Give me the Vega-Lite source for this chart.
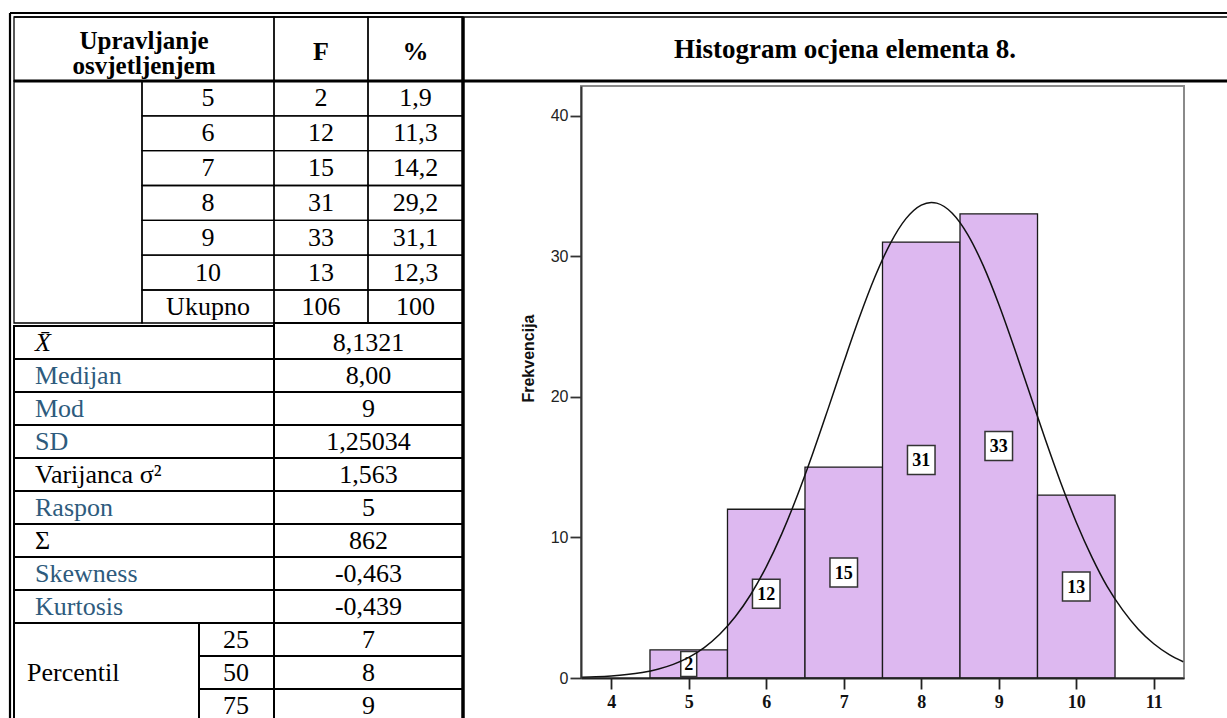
{
  "$schema": "https://vega.github.io/schema/vega-lite/v6.json",
  "padding": 0,
  "spacing": 118,
  "bounds": "flush",
  "background": "white",
  "config": {"view": {"stroke": null}},
  "datasets": {
    "cells": [
      {"r0": 0, "r1": 1, "c0": 0, "c1": 3},
      {"r0": 0, "r1": 1, "c0": 3, "c1": 4},
      {"r0": 0, "r1": 1, "c0": 4, "c1": 5},
      {"r0": 1, "r1": 8, "c0": 0, "c1": 1},
      {"r0": 1, "r1": 2, "c0": 1, "c1": 3}, {"r0": 1, "r1": 2, "c0": 3, "c1": 4}, {"r0": 1, "r1": 2, "c0": 4, "c1": 5},
      {"r0": 2, "r1": 3, "c0": 1, "c1": 3}, {"r0": 2, "r1": 3, "c0": 3, "c1": 4}, {"r0": 2, "r1": 3, "c0": 4, "c1": 5},
      {"r0": 3, "r1": 4, "c0": 1, "c1": 3}, {"r0": 3, "r1": 4, "c0": 3, "c1": 4}, {"r0": 3, "r1": 4, "c0": 4, "c1": 5},
      {"r0": 4, "r1": 5, "c0": 1, "c1": 3}, {"r0": 4, "r1": 5, "c0": 3, "c1": 4}, {"r0": 4, "r1": 5, "c0": 4, "c1": 5},
      {"r0": 5, "r1": 6, "c0": 1, "c1": 3}, {"r0": 5, "r1": 6, "c0": 3, "c1": 4}, {"r0": 5, "r1": 6, "c0": 4, "c1": 5},
      {"r0": 6, "r1": 7, "c0": 1, "c1": 3}, {"r0": 6, "r1": 7, "c0": 3, "c1": 4}, {"r0": 6, "r1": 7, "c0": 4, "c1": 5},
      {"r0": 7, "r1": 8, "c0": 1, "c1": 3}, {"r0": 7, "r1": 8, "c0": 3, "c1": 4}, {"r0": 7, "r1": 8, "c0": 4, "c1": 5},
      {"r0": 9, "r1": 10, "c0": 0, "c1": 3}, {"r0": 8, "r1": 10, "c0": 3, "c1": 5},
      {"r0": 10, "r1": 11, "c0": 0, "c1": 3}, {"r0": 10, "r1": 11, "c0": 3, "c1": 5},
      {"r0": 11, "r1": 12, "c0": 0, "c1": 3}, {"r0": 11, "r1": 12, "c0": 3, "c1": 5},
      {"r0": 12, "r1": 13, "c0": 0, "c1": 3}, {"r0": 12, "r1": 13, "c0": 3, "c1": 5},
      {"r0": 13, "r1": 14, "c0": 0, "c1": 3}, {"r0": 13, "r1": 14, "c0": 3, "c1": 5},
      {"r0": 14, "r1": 15, "c0": 0, "c1": 3}, {"r0": 14, "r1": 15, "c0": 3, "c1": 5},
      {"r0": 15, "r1": 16, "c0": 0, "c1": 3}, {"r0": 15, "r1": 16, "c0": 3, "c1": 5},
      {"r0": 16, "r1": 17, "c0": 0, "c1": 3}, {"r0": 16, "r1": 17, "c0": 3, "c1": 5},
      {"r0": 17, "r1": 18, "c0": 0, "c1": 3}, {"r0": 17, "r1": 18, "c0": 3, "c1": 5},
      {"r0": 18, "r1": 21, "c0": 0, "c1": 2},
      {"r0": 18, "r1": 19, "c0": 2, "c1": 3}, {"r0": 18, "r1": 19, "c0": 3, "c1": 5},
      {"r0": 19, "r1": 20, "c0": 2, "c1": 3}, {"r0": 19, "r1": 20, "c0": 3, "c1": 5},
      {"r0": 20, "r1": 21, "c0": 2, "c1": 3}, {"r0": 20, "r1": 21, "c0": 3, "c1": 5}
    ],
    "texts": [
      {"row": 0, "col": 2, "text": "Upravljanje\nosvjetljenjem", "kind": "head2"},
      {"row": 0, "col": 5, "text": "F", "kind": "head"},
      {"row": 0, "col": 7, "text": "%", "kind": "head"},
      {"row": 0, "col": 8, "text": "Histogram ocjena elementa 8.", "kind": "title"},
      {"row": 1, "col": 3, "text": "5", "kind": "cell"}, {"row": 1, "col": 5, "text": "2", "kind": "cell"}, {"row": 1, "col": 7, "text": "1,9", "kind": "cell"},
      {"row": 2, "col": 3, "text": "6", "kind": "cell"}, {"row": 2, "col": 5, "text": "12", "kind": "cell"}, {"row": 2, "col": 7, "text": "11,3", "kind": "cell"},
      {"row": 3, "col": 3, "text": "7", "kind": "cell"}, {"row": 3, "col": 5, "text": "15", "kind": "cell"}, {"row": 3, "col": 7, "text": "14,2", "kind": "cell"},
      {"row": 4, "col": 3, "text": "8", "kind": "cell"}, {"row": 4, "col": 5, "text": "31", "kind": "cell"}, {"row": 4, "col": 7, "text": "29,2", "kind": "cell"},
      {"row": 5, "col": 3, "text": "9", "kind": "cell"}, {"row": 5, "col": 5, "text": "33", "kind": "cell"}, {"row": 5, "col": 7, "text": "31,1", "kind": "cell"},
      {"row": 6, "col": 3, "text": "10", "kind": "cell"}, {"row": 6, "col": 5, "text": "13", "kind": "cell"}, {"row": 6, "col": 7, "text": "12,3", "kind": "cell"},
      {"row": 7, "col": 3, "text": "Ukupno", "kind": "cell"}, {"row": 7, "col": 5, "text": "106", "kind": "cell"}, {"row": 7, "col": 7, "text": "100", "kind": "cell"},
      {"row": 8, "col": 1, "text": "X̄", "kind": "label"}, {"row": 8, "col": 6, "text": "8,1321", "kind": "cell"},
      {"row": 9, "col": 1, "text": "Medijan", "kind": "label"}, {"row": 9, "col": 6, "text": "8,00", "kind": "cell"},
      {"row": 10, "col": 1, "text": "Mod", "kind": "label"}, {"row": 10, "col": 6, "text": "9", "kind": "cell"},
      {"row": 11, "col": 1, "text": "SD", "kind": "label"}, {"row": 11, "col": 6, "text": "1,25034", "kind": "cell"},
      {"row": 12, "col": 1, "text": "Varijanca σ²", "kind": "label"}, {"row": 12, "col": 6, "text": "1,563", "kind": "cell"},
      {"row": 13, "col": 1, "text": "Raspon", "kind": "label"}, {"row": 13, "col": 6, "text": "5", "kind": "cell"},
      {"row": 14, "col": 1, "text": "Σ", "kind": "label"}, {"row": 14, "col": 6, "text": "862", "kind": "cell"},
      {"row": 15, "col": 1, "text": "Skewness", "kind": "label"}, {"row": 15, "col": 6, "text": "-0,463", "kind": "cell"},
      {"row": 16, "col": 1, "text": "Kurtosis", "kind": "label"}, {"row": 16, "col": 6, "text": "-0,439", "kind": "cell"},
      {"row": 17, "col": 4, "text": "25", "kind": "cell"}, {"row": 17, "col": 6, "text": "7", "kind": "cell"},
      {"row": 18, "col": 0, "text": "Percentil", "kind": "label"}, {"row": 18, "col": 4, "text": "50", "kind": "cell"}, {"row": 18, "col": 6, "text": "8", "kind": "cell"},
      {"row": 19, "col": 4, "text": "75", "kind": "cell"}, {"row": 19, "col": 6, "text": "9", "kind": "cell"}
    ],
    "histogram": [
      {"ocjena": 5, "od": 4.5, "do": 5.5, "frekvencija": 2},
      {"ocjena": 6, "od": 5.5, "do": 6.5, "frekvencija": 12},
      {"ocjena": 7, "od": 6.5, "do": 7.5, "frekvencija": 15},
      {"ocjena": 8, "od": 7.5, "do": 8.5, "frekvencija": 31},
      {"ocjena": 9, "od": 8.5, "do": 9.5, "frekvencija": 33},
      {"ocjena": 10, "od": 9.5, "do": 10.5, "frekvencija": 13}
    ],
    "krivulja": [
      {"ocjena": 3.62, "gustoca": 0.05}, {"ocjena": 3.8, "gustoca": 0.084}, {"ocjena": 4.0, "gustoca": 0.144},
      {"ocjena": 4.2, "gustoca": 0.241}, {"ocjena": 4.4, "gustoca": 0.393}, {"ocjena": 4.6, "gustoca": 0.626},
      {"ocjena": 4.8, "gustoca": 0.971}, {"ocjena": 5.0, "gustoca": 1.468}, {"ocjena": 5.2, "gustoca": 2.163},
      {"ocjena": 5.4, "gustoca": 3.107}, {"ocjena": 5.6, "gustoca": 4.352}, {"ocjena": 5.8, "gustoca": 5.939},
      {"ocjena": 6.0, "gustoca": 7.903}, {"ocjena": 6.2, "gustoca": 10.249}, {"ocjena": 6.4, "gustoca": 12.956},
      {"ocjena": 6.6, "gustoca": 15.965}, {"ocjena": 6.8, "gustoca": 19.174}, {"ocjena": 7.0, "gustoca": 22.448},
      {"ocjena": 7.2, "gustoca": 25.614}, {"ocjena": 7.4, "gustoca": 28.494}, {"ocjena": 7.6, "gustoca": 30.893},
      {"ocjena": 7.8, "gustoca": 32.649}, {"ocjena": 8.0, "gustoca": 33.633}, {"ocjena": 8.13, "gustoca": 33.821},
      {"ocjena": 8.2, "gustoca": 33.771}, {"ocjena": 8.4, "gustoca": 33.054}, {"ocjena": 8.6, "gustoca": 31.534},
      {"ocjena": 8.8, "gustoca": 29.324}, {"ocjena": 9.0, "gustoca": 26.581}, {"ocjena": 9.2, "gustoca": 23.486},
      {"ocjena": 9.4, "gustoca": 20.225}, {"ocjena": 9.6, "gustoca": 16.979}, {"ocjena": 9.8, "gustoca": 13.892},
      {"ocjena": 10.0, "gustoca": 11.081}, {"ocjena": 10.2, "gustoca": 8.614}, {"ocjena": 10.4, "gustoca": 6.495},
      {"ocjena": 10.6, "gustoca": 4.823}, {"ocjena": 10.8, "gustoca": 3.472}, {"ocjena": 11.0, "gustoca": 2.436},
      {"ocjena": 11.2, "gustoca": 1.667}, {"ocjena": 11.38, "gustoca": 1.159}
    ]
  },
  "hconcat": [
    {
      "width": 463,
      "height": 718,
      "layer": [
        {
          "data": {"name": "cells"},
          "layer": [
            {
              "mark": {"type": "rect", "fill": "white", "fillOpacity": 0, "stroke": "#000"},
              "encoding": {
                "x": {"field": "c0", "type": "quantitative", "axis": null, "scale": {"domain": [-1, 0, 1, 2, 3, 4, 5, 6], "range": [10, 14, 142, 199, 274, 368, 463, 1227], "nice": false, "zero": false}},
                "x2": {"field": "c1"},
                "y": {"field": "r0", "type": "quantitative", "axis": null, "scale": {"domain": [-1, 0, 1, 7, 8, 9, 21], "range": [13, 17, 81, 290, 323, 326, 722], "nice": false, "zero": false}},
                "y2": {"field": "r1"},
                "strokeWidth": {"condition": {"test": "datum.r0 >= 8", "value": 2}, "value": 1.3}
              }
            },
            {
              "data": {"values": [{}]},
              "mark": {"type": "rule", "stroke": "#000", "strokeWidth": 2.2},
              "encoding": {
                "x": {"datum": -1, "type": "quantitative", "axis": null, "scale": {"domain": [-1, 0, 1, 2, 3, 4, 5, 6], "range": [10, 14, 142, 199, 274, 368, 463, 1227], "nice": false, "zero": false}},
                "y": {"datum": -1, "type": "quantitative", "axis": null, "scale": {"domain": [-1, 0, 1, 7, 8, 9, 21], "range": [13, 17, 81, 290, 323, 326, 722], "nice": false, "zero": false}},
                "y2": {"datum": 21}
              }
            },
            {
              "data": {"values": [{}]},
              "mark": {"type": "rule", "stroke": "#000", "strokeWidth": 2.2},
              "encoding": {
                "x": {"datum": -1, "type": "quantitative", "axis": null, "scale": {"domain": [-1, 0, 1, 2, 3, 4, 5, 6], "range": [10, 14, 142, 199, 274, 368, 463, 1227], "nice": false, "zero": false}},
                "x2": {"datum": 6},
                "y": {"datum": -1, "type": "quantitative", "axis": null, "scale": {"domain": [-1, 0, 1, 7, 8, 9, 21], "range": [13, 17, 81, 290, 323, 326, 722], "nice": false, "zero": false}}
              }
            },
            {
              "data": {"values": [{}]},
              "mark": {"type": "rule", "stroke": "#000", "strokeWidth": 1.6},
              "encoding": {
                "x": {"datum": 0, "type": "quantitative", "axis": null, "scale": {"domain": [-1, 0, 1, 2, 3, 4, 5, 6], "range": [10, 14, 142, 199, 274, 368, 463, 1227], "nice": false, "zero": false}},
                "x2": {"datum": 6},
                "y": {"datum": 0, "type": "quantitative", "axis": null, "scale": {"domain": [-1, 0, 1, 7, 8, 9, 21], "range": [13, 17, 81, 290, 323, 326, 722], "nice": false, "zero": false}}
              }
            },
            {
              "data": {"values": [{}]},
              "mark": {"type": "rule", "stroke": "#000", "strokeWidth": 3},
              "encoding": {
                "x": {"datum": 0, "type": "quantitative", "axis": null, "scale": {"domain": [-1, 0, 1, 2, 3, 4, 5, 6], "range": [10, 14, 142, 199, 274, 368, 463, 1227], "nice": false, "zero": false}},
                "x2": {"datum": 6},
                "y": {"datum": 1, "type": "quantitative", "axis": null, "scale": {"domain": [-1, 0, 1, 7, 8, 9, 21], "range": [13, 17, 81, 290, 323, 326, 722], "nice": false, "zero": false}}
              }
            },
            {
              "data": {"values": [{}]},
              "mark": {"type": "rule", "stroke": "#000", "strokeWidth": 3.5},
              "encoding": {
                "x": {"datum": 5, "type": "quantitative", "axis": null, "scale": {"domain": [-1, 0, 1, 2, 3, 4, 5, 6], "range": [10, 14, 142, 199, 274, 368, 463, 1227], "nice": false, "zero": false}},
                "y": {"datum": 0, "type": "quantitative", "axis": null, "scale": {"domain": [-1, 0, 1, 7, 8, 9, 21], "range": [13, 17, 81, 290, 323, 326, 722], "nice": false, "zero": false}},
                "y2": {"datum": 21}
              }
            }
          ]
        },
        {
          "data": {"name": "texts"},
          "layer": [
            {
              "transform": [{"filter": "datum.kind == 'cell'"}],
              "mark": {"type": "text", "font": "Liberation Serif", "fontSize": 26, "align": "center", "baseline": "middle", "color": "#000"},
              "encoding": {
                "x": {"field": "col", "type": "quantitative", "axis": null, "scale": {"domain": [0, 1, 2, 3, 4, 5, 6, 7, 8], "range": [27, 35, 144, 208, 236, 321, 368.5, 415.5, 845], "nice": false, "zero": false}},
                "y": {"field": "row", "type": "quantitative", "axis": null, "scale": {"domain": [0, 1, 6, 7, 8, 19], "range": [49, 98.4, 272.7, 306.5, 342.5, 705.5], "nice": false, "zero": false}},
                "text": {"field": "text"}
              }
            },
            {
              "transform": [{"filter": "datum.kind == 'head'"}],
              "mark": {"type": "text", "font": "Liberation Serif", "fontSize": 26, "fontWeight": "bold", "align": "center", "baseline": "middle", "dy": 3, "color": "#000"},
              "encoding": {
                "x": {"field": "col", "type": "quantitative", "axis": null, "scale": {"domain": [0, 1, 2, 3, 4, 5, 6, 7, 8], "range": [27, 35, 144, 208, 236, 321, 368.5, 415.5, 845], "nice": false, "zero": false}},
                "y": {"field": "row", "type": "quantitative", "axis": null, "scale": {"domain": [0, 1, 6, 7, 8, 19], "range": [49, 98.4, 272.7, 306.5, 342.5, 705.5], "nice": false, "zero": false}},
                "text": {"field": "text"}
              }
            },
            {
              "transform": [{"filter": "datum.kind == 'head2'"}],
              "mark": {"type": "text", "font": "Liberation Serif", "fontSize": 25, "fontWeight": "bold", "align": "center", "baseline": "middle", "lineBreak": "\n", "lineHeight": 25, "dy": -8, "color": "#000"},
              "encoding": {
                "x": {"field": "col", "type": "quantitative", "axis": null, "scale": {"domain": [0, 1, 2, 3, 4, 5, 6, 7, 8], "range": [27, 35, 144, 208, 236, 321, 368.5, 415.5, 845], "nice": false, "zero": false}},
                "y": {"field": "row", "type": "quantitative", "axis": null, "scale": {"domain": [0, 1, 6, 7, 8, 19], "range": [49, 98.4, 272.7, 306.5, 342.5, 705.5], "nice": false, "zero": false}},
                "text": {"field": "text"}
              }
            },
            {
              "transform": [{"filter": "datum.kind == 'title'"}],
              "mark": {"type": "text", "font": "Liberation Serif", "fontSize": 27, "fontWeight": "bold", "align": "center", "baseline": "middle", "dy": 1, "color": "#000"},
              "encoding": {
                "x": {"field": "col", "type": "quantitative", "axis": null, "scale": {"domain": [0, 1, 2, 3, 4, 5, 6, 7, 8], "range": [27, 35, 144, 208, 236, 321, 368.5, 415.5, 845], "nice": false, "zero": false}},
                "y": {"field": "row", "type": "quantitative", "axis": null, "scale": {"domain": [0, 1, 6, 7, 8, 19], "range": [49, 98.4, 272.7, 306.5, 342.5, 705.5], "nice": false, "zero": false}},
                "text": {"field": "text"}
              }
            },
            {
              "transform": [{"filter": "datum.kind == 'label' && datum.text != 'X̄'"}],
              "mark": {"type": "text", "font": "Liberation Serif", "fontSize": 26, "align": "left", "baseline": "middle"},
              "encoding": {
                "x": {"field": "col", "type": "quantitative", "axis": null, "scale": {"domain": [0, 1, 2, 3, 4, 5, 6, 7, 8], "range": [27, 35, 144, 208, 236, 321, 368.5, 415.5, 845], "nice": false, "zero": false}},
                "y": {"field": "row", "type": "quantitative", "axis": null, "scale": {"domain": [0, 1, 6, 7, 8, 19], "range": [49, 98.4, 272.7, 306.5, 342.5, 705.5], "nice": false, "zero": false}},
                "text": {"field": "text"},
                "color": {"condition": {"test": "indexof(['Medijan','Mod','SD','Raspon','Skewness','Kurtosis'], datum.text) >= 0", "value": "#2E5B7D"}, "value": "#000"}
              }
            },
            {
              "transform": [{"filter": "datum.text == 'X̄'"}],
              "mark": {"type": "text", "font": "Liberation Serif", "fontSize": 26, "fontStyle": "italic", "align": "left", "baseline": "middle", "color": "#000"},
              "encoding": {
                "x": {"field": "col", "type": "quantitative", "axis": null, "scale": {"domain": [0, 1, 2, 3, 4, 5, 6, 7, 8], "range": [27, 35, 144, 208, 236, 321, 368.5, 415.5, 845], "nice": false, "zero": false}},
                "y": {"field": "row", "type": "quantitative", "axis": null, "scale": {"domain": [0, 1, 6, 7, 8, 19], "range": [49, 98.4, 272.7, 306.5, 342.5, 705.5], "nice": false, "zero": false}},
                "text": {"field": "text"}
              }
            }
          ]
        }
      ],
      "resolve": {"scale": {"x": "independent", "y": "independent"}}
    },
    {
      "width": 603,
      "height": 678,
      "layer": [
        {
          "data": {"values": [{}]},
          "mark": {"type": "rect", "fill": "white", "fillOpacity": 0, "stroke": "#8a8a8a", "strokeWidth": 2},
          "encoding": {
            "x": {"datum": 3.61, "type": "quantitative", "axis": null, "scale": {"domain": [3.61, 11.39], "nice": false, "zero": false}},
            "x2": {"datum": 11.39},
            "y": {"datum": 0, "type": "quantitative", "axis": null, "scale": {"domain": [0, 42.1], "range": [678, 86], "nice": false, "zero": false}},
            "y2": {"datum": 42.1}
          }
        },
        {
          "data": {"name": "histogram"},
          "mark": {"type": "rect", "fill": "#DDB8F0", "stroke": "#1a1a1a", "strokeWidth": 1.3},
          "encoding": {
            "x": {"field": "od", "type": "quantitative", "scale": {"domain": [3.61, 11.39], "nice": false, "zero": false},
              "axis": {"values": [4, 5, 6, 7, 8, 9, 10, 11], "title": null, "grid": false, "domainColor": "#222", "domainWidth": 1.8, "tickColor": "#222", "tickWidth": 1.8, "tickSize": 11, "labelFont": "Liberation Serif", "labelFontWeight": "bold", "labelFontSize": 18, "labelColor": "#111", "labelPadding": 4, "labelFlush": false, "labelOverlap": false, "zindex": 1}},
            "x2": {"field": "do"},
            "y": {"field": "frekvencija", "type": "quantitative", "scale": {"domain": [0, 42.1], "range": [678, 86], "nice": false, "zero": false},
              "axis": {"values": [0, 10, 20, 30, 40], "title": "Frekvencija", "titleFont": "Liberation Sans", "titleFontSize": 16, "titleFontWeight": "bold", "titleColor": "#111", "titlePadding": 14, "titleY": 358, "grid": false, "domainColor": "#333", "domainWidth": 2, "tickColor": "#333", "tickWidth": 1.8, "tickSize": 11, "labelFont": "Liberation Sans Narrow, Liberation Sans", "labelFontSize": 16, "labelColor": "#222", "labelPadding": 2, "labelFlush": false, "zindex": 1}},
            "y2": {"datum": 0}
          }
        },
        {
          "data": {"name": "histogram"},
          "mark": {"type": "point", "filled": true, "fill": "white", "stroke": "#333", "strokeWidth": 1.5, "opacity": 1, "fillOpacity": 1, "strokeOpacity": 1, "size": 841},
          "encoding": {
            "x": {"field": "ocjena", "type": "quantitative", "axis": null, "scale": {"domain": [3.61, 11.39], "nice": false, "zero": false}},
            "y": {"field": "frekvencija", "type": "quantitative", "axis": null, "scale": {"domain": [0, 84.2], "range": [678, 86], "nice": false, "zero": false}},
            "shape": {"condition": {"test": "datum.frekvencija < 10", "value": "M-0.55,-0.86H0.55V0.86H-0.55Z"}, "value": "M-0.95,-1H0.95V1H-0.95Z"}
          }
        },
        {
          "data": {"name": "histogram"},
          "mark": {"type": "text", "font": "Liberation Serif", "fontSize": 18, "fontWeight": "bold", "align": "center", "baseline": "middle", "dy": 1, "color": "#000"},
          "encoding": {
            "x": {"field": "ocjena", "type": "quantitative", "axis": null, "scale": {"domain": [3.61, 11.39], "nice": false, "zero": false}},
            "y": {"field": "frekvencija", "type": "quantitative", "axis": null, "scale": {"domain": [0, 84.2], "range": [678, 86], "nice": false, "zero": false}},
            "text": {"field": "frekvencija", "type": "quantitative"}
          }
        },
        {
          "data": {"name": "krivulja"},
          "mark": {"type": "line", "stroke": "#111", "strokeWidth": 1.5, "interpolate": "monotone"},
          "encoding": {
            "x": {"field": "ocjena", "type": "quantitative", "axis": null, "scale": {"domain": [3.61, 11.39], "nice": false, "zero": false}},
            "y": {"field": "gustoca", "type": "quantitative", "axis": null, "scale": {"domain": [0, 42.1], "range": [678, 86], "nice": false, "zero": false}}
          }
        }
      ],
      "resolve": {"scale": {"x": "independent", "y": "independent"}}
    }
  ]
}
